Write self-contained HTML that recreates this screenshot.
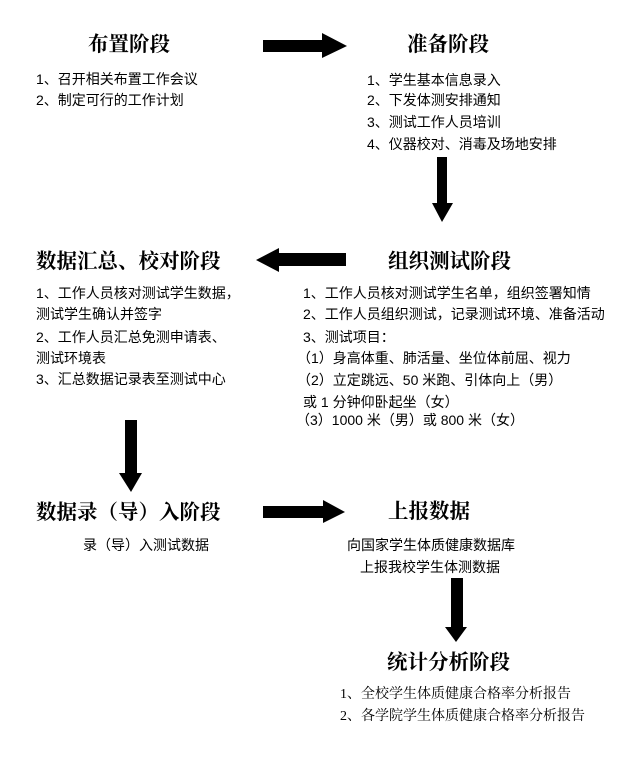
<!DOCTYPE html>
<html><head><meta charset="utf-8">
<style>
html,body{margin:0;padding:0;background:#fff;}
#c{position:relative;width:641px;height:760px;overflow:hidden;background:#fff;}
.t{position:absolute;white-space:nowrap;color:#000;font-family:"Liberation Serif","Noto Serif CJK SC",serif;font-weight:700;font-size:20.5px;height:24px;line-height:24px;}
.i{position:absolute;white-space:nowrap;color:#000;font-family:"Liberation Sans","Noto Sans CJK SC",sans-serif;font-size:14px;height:20px;line-height:20px;}
.s{font-family:"Liberation Serif","Noto Serif CJK SC",serif;}
svg{position:absolute;left:0;top:0;}
</style></head><body><div id="c">
<svg width="641" height="760" viewBox="0 0 641 760">
  <!-- arrow 1 right -->
  <polygon points="263,40 322,40 322,33 347,46 322,58 322,52 263,52" fill="#000"/>
  <!-- arrow 2 down -->
  <polygon points="437,157 447,157 447,203 453,203 442,222 432,203 437,203" fill="#000"/>
  <!-- arrow 3 left -->
  <polygon points="346,253 279,253 279,248 256,260 279,272 279,266 346,266" fill="#000"/>
  <!-- arrow 4 down -->
  <polygon points="125,420 137,420 137,473 142,473 131,492 119,473 125,473" fill="#000"/>
  <!-- arrow 5 right -->
  <polygon points="263,506 323,506 323,500 345,512 323,523 323,518 263,518" fill="#000"/>
  <!-- arrow 6 down -->
  <polygon points="451,578 463,578 463,627 467,627 456,642 445,627 451,627" fill="#000"/>
</svg>

<div class="t" style="left:88px;top:33px;">布置阶段</div>
<div class="i" style="left:36px;top:69px;">1、召开相关布置工作会议</div>
<div class="i" style="left:36px;top:90px;">2、制定可行的工作计划</div>

<div class="t" style="left:407px;top:33px;">准备阶段</div>
<div class="i" style="left:367px;top:70px;">1、学生基本信息录入</div>
<div class="i" style="left:367px;top:90px;">2、下发体测安排通知</div>
<div class="i" style="left:367px;top:112px;">3、测试工作人员培训</div>
<div class="i" style="left:367px;top:134px;">4、仪器校对、消毒及场地安排</div>

<div class="t" style="left:36px;top:250px;">数据汇总、校对阶段</div>
<div class="i" style="left:36px;top:283px;">1、工作人员核对测试学生数据，</div>
<div class="i" style="left:36px;top:304px;">测试学生确认并签字</div>
<div class="i" style="left:36px;top:327px;">2、工作人员汇总免测申请表、</div>
<div class="i" style="left:36px;top:348px;">测试环境表</div>
<div class="i" style="left:36px;top:369px;">3、汇总数据记录表至测试中心</div>

<div class="t" style="left:388px;top:250px;">组织测试阶段</div>
<div class="i" style="left:303px;top:283px;">1、工作人员核对测试学生名单，组织签署知情</div>
<div class="i" style="left:303px;top:304px;">2、工作人员组织测试，记录测试环境、准备活动</div>
<div class="i" style="left:303px;top:327px;">3、测试项目：</div>
<div class="i" style="left:297px;top:348px;">（1）身高体重、肺活量、坐位体前屈、视力</div>
<div class="i" style="left:297px;top:370px;">（2）立定跳远、50 米跑、引体向上（男）</div>
<div class="i" style="left:303px;top:392px;">或 1 分钟仰卧起坐（女）</div>
<div class="i" style="left:296px;top:410px;">（3）1000 米（男）或 800 米（女）</div>

<div class="t" style="left:36px;top:501px;">数据录（导）入阶段</div>
<div class="i" style="left:83px;top:535px;">录（导）入测试数据</div>

<div class="t" style="left:388px;top:500px;">上报数据</div>
<div class="i" style="left:347px;top:535px;">向国家学生体质健康数据库</div>
<div class="i" style="left:360px;top:557px;">上报我校学生体测数据</div>

<div class="t" style="left:387px;top:651px;">统计分析阶段</div>
<div class="i s" style="left:340px;top:685px;">1、全校学生体质健康合格率分析报告</div>
<div class="i s" style="left:340px;top:707px;">2、各学院学生体质健康合格率分析报告</div>
</div></body></html>
